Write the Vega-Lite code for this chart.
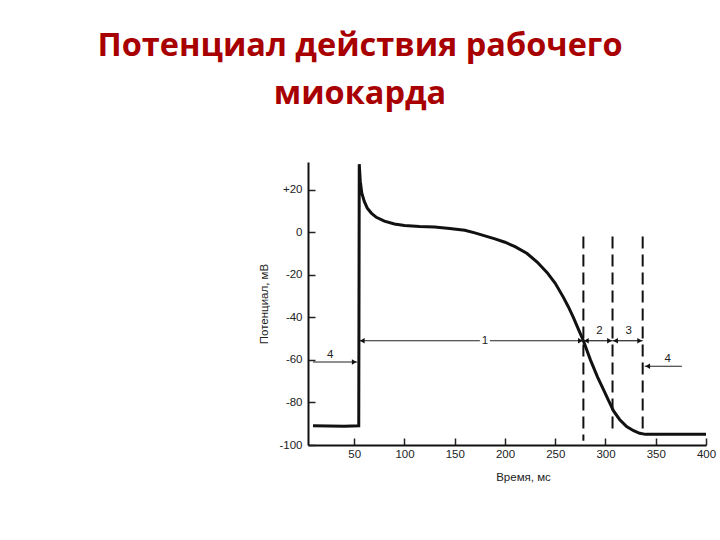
{
  "$schema": "https://vega.github.io/schema/vega-lite/v6.json",
  "width": 398,
  "height": 283,
  "autosize": "none",
  "padding": {"left": 308, "top": 162, "right": 14, "bottom": 95},
  "background": "white",
  "config": {"view": {"stroke": null}},
  "title": {
    "text": ["Потенциал действия рабочего", "миокарда"],
    "font": "Open Sans",
    "fontWeight": "bold",
    "fontSize": 32.5,
    "lineHeight": 48,
    "color": "#a80000",
    "anchor": "middle",
    "dx": -147,
    "offset": 52
  },
  "datasets": {
    "curve": [
      {"t": 9, "v": -91}, {"t": 40, "v": -91.2}, {"t": 54.5, "v": -91}, {"t": 55, "v": 32},
      {"t": 56, "v": 24}, {"t": 57.5, "v": 18.5}, {"t": 60, "v": 14.5}, {"t": 63, "v": 11.3},
      {"t": 67, "v": 9}, {"t": 72, "v": 7}, {"t": 80, "v": 5.2}, {"t": 90, "v": 3.9},
      {"t": 100, "v": 3.2}, {"t": 115, "v": 2.7}, {"t": 130, "v": 2.4}, {"t": 145, "v": 1.8},
      {"t": 160, "v": 0.9}, {"t": 170, "v": -0.3}, {"t": 180, "v": -1.7}, {"t": 190, "v": -3.1},
      {"t": 200, "v": -4.7}, {"t": 210, "v": -6.8}, {"t": 222, "v": -10}, {"t": 232, "v": -14},
      {"t": 242, "v": -19}, {"t": 250, "v": -24}, {"t": 258, "v": -30.5}, {"t": 263, "v": -35},
      {"t": 268, "v": -40}, {"t": 273, "v": -45.5}, {"t": 278, "v": -51}, {"t": 285, "v": -60},
      {"t": 292, "v": -68}, {"t": 298, "v": -74}, {"t": 303, "v": -79}, {"t": 308, "v": -84},
      {"t": 314, "v": -88}, {"t": 321, "v": -91.3}, {"t": 328, "v": -93.3}, {"t": 334, "v": -94.5},
      {"t": 340, "v": -95}, {"t": 360, "v": -95}, {"t": 401, "v": -95}
    ],
    "dashes": [
      {"t": 278, "y1": -2, "y2": -98},
      {"t": 307, "y1": -2, "y2": -95},
      {"t": 337, "y1": -2, "y2": -95}
    ],
    "arrows": [
      {"x1": 55, "x2": 175, "y": -51},
      {"x1": 185, "x2": 278, "y": -51},
      {"x1": 278, "x2": 307, "y": -51},
      {"x1": 307, "x2": 337, "y": -51},
      {"x1": 9, "x2": 53, "y": -61},
      {"x1": 339, "x2": 376, "y": -63}
    ],
    "heads": [
      {"t": 58, "v": -51, "s": "triangle-left"},
      {"t": 275, "v": -51, "s": "triangle-right"},
      {"t": 281, "v": -51, "s": "triangle-left"},
      {"t": 304, "v": -51, "s": "triangle-right"},
      {"t": 310, "v": -51, "s": "triangle-left"},
      {"t": 334, "v": -51, "s": "triangle-right"},
      {"t": 50, "v": -61, "s": "triangle-right"},
      {"t": 342, "v": -63, "s": "triangle-left"}
    ],
    "labels": [
      {"t": 180, "v": -51, "txt": "1"},
      {"t": 294, "v": -46.5, "txt": "2"},
      {"t": 323, "v": -46.5, "txt": "3"},
      {"t": 26, "v": -57.5, "txt": "4"},
      {"t": 362, "v": -59.5, "txt": "4"}
    ]
  },
  "layer": [
    {
      "data": {"name": "curve"},
      "mark": {"type": "line", "color": "#111", "strokeWidth": 3, "interpolate": "linear", "clip": true},
      "encoding": {
        "x": {
          "field": "t", "type": "quantitative",
          "scale": {"domain": [4, 400], "nice": false, "zero": false},
          "axis": {
            "values": [50, 100, 150, 200, 250, 300, 350, 400],
            "title": "Время, мс",
            "titleFont": "Liberation Sans", "titleFontSize": 11.5, "titleFontWeight": "normal",
            "titleColor": "#222", "titlePadding": 12, "titleX": 215,
            "labelFont": "Liberation Sans", "labelFontSize": 11.5, "labelColor": "#222",
            "labelPadding": 10, "tickSize": -7, "tickColor": "#222", "tickWidth": 1.5,
            "domainColor": "#111", "domainWidth": 2, "grid": false, "labelFlush": false
          }
        },
        "y": {
          "field": "v", "type": "quantitative",
          "scale": {"domain": [-100, 33], "nice": false, "zero": false},
          "axis": {
            "values": [-100, -80, -60, -40, -20, 0, 20],
            "labelExpr": "datum.value > 0 ? '+' + datum.value : (datum.value < 0 ? '-' + abs(datum.value) : '0')",
            "title": "Потенциал, мВ",
            "titleFont": "Liberation Sans", "titleFontSize": 11.5, "titleFontWeight": "normal",
            "titleColor": "#222", "titlePadding": 9,
            "labelFont": "Liberation Sans", "labelFontSize": 11.5, "labelColor": "#222",
            "labelPadding": 13, "tickSize": -7, "tickColor": "#222", "tickWidth": 1.5,
            "domainColor": "#111", "domainWidth": 2, "grid": false, "labelFlush": false
          }
        }
      }
    },
    {
      "data": {"name": "dashes"},
      "mark": {"type": "rule", "color": "#111", "strokeWidth": 2, "strokeDash": [12, 6]},
      "encoding": {
        "x": {"field": "t", "type": "quantitative"},
        "y": {"field": "y1", "type": "quantitative"},
        "y2": {"field": "y2"}
      }
    },
    {
      "data": {"name": "arrows"},
      "mark": {"type": "rule", "color": "#222", "strokeWidth": 1.2},
      "encoding": {
        "x": {"field": "x1", "type": "quantitative"},
        "x2": {"field": "x2"},
        "y": {"field": "y", "type": "quantitative"}
      }
    },
    {
      "data": {"name": "heads"},
      "mark": {"type": "point", "filled": true, "color": "#111", "size": 30, "opacity": 1},
      "encoding": {
        "x": {"field": "t", "type": "quantitative"},
        "y": {"field": "v", "type": "quantitative"},
        "shape": {"field": "s", "type": "nominal", "scale": null}
      }
    },
    {
      "data": {"name": "labels"},
      "mark": {"type": "text", "font": "Liberation Sans", "fontSize": 11.5, "color": "#222", "baseline": "middle", "align": "center"},
      "encoding": {
        "x": {"field": "t", "type": "quantitative"},
        "y": {"field": "v", "type": "quantitative"},
        "text": {"field": "txt"}
      }
    }
  ]
}
